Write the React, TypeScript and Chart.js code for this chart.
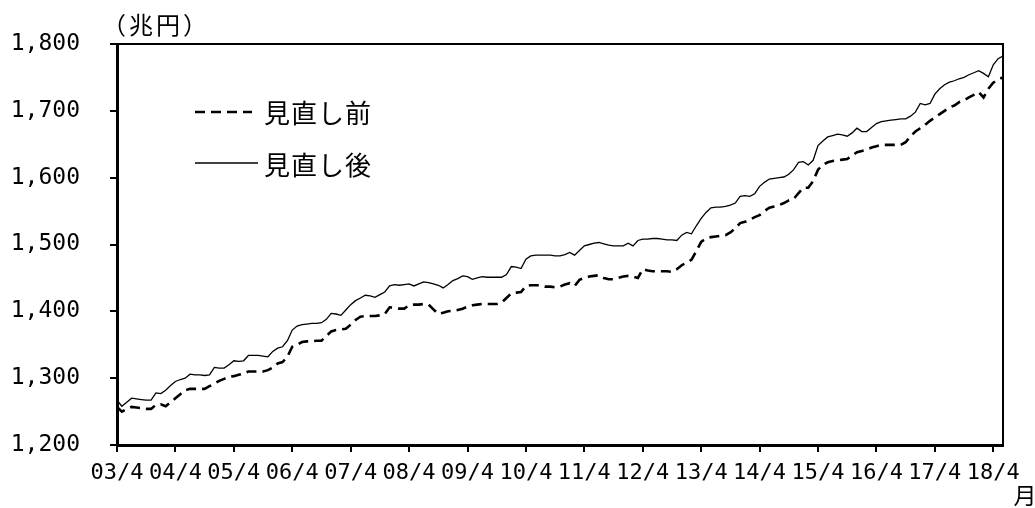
import { useEffect, useRef } from "react";
import { Chart, registerables } from "chart.js";

Chart.register(...registerables);

// ---- data -------------------------------------------------------------
const START_YEAR = 2003;
const START_MONTH = 4;
const MONTH_COUNT = 183; // 2003/4 .. 2018/6

const monthLabels: string[] = Array.from({ length: MONTH_COUNT }, (_, i) => {
  const m0 = START_MONTH - 1 + i;
  const y = START_YEAR + Math.floor(m0 / 12);
  const m = (m0 % 12) + 1;
  return `${String(y % 100).padStart(2, "0")}/${m}`;
});

const xTickLabels = [
  "03/4", "04/4", "05/4", "06/4", "07/4", "08/4", "09/4", "10/4",
  "11/4", "12/4", "13/4", "14/4", "15/4", "16/4", "17/4", "18/4",
];

const yTickValues = [1200, 1300, 1400, 1500, 1600, 1700, 1800];

const seriesNames = ["見直し前", "見直し後"];

const unitLabel = "（兆円）";
const xUnitLabel = "月";

// 見直し前 (before revision), monthly
const beforeRevision = [
  1257, 1250, 1254, 1257, 1256, 1255, 1254, 1254, 1260, 1261, 1258, 1264,
  1270, 1276, 1282, 1284, 1284, 1284, 1284, 1288, 1292, 1296, 1299, 1302,
  1303, 1305, 1307, 1310, 1310, 1310, 1310, 1312, 1316, 1322, 1324, 1332,
  1347, 1350, 1354, 1355, 1355, 1356, 1356, 1363, 1370, 1372, 1373, 1374,
  1380, 1387, 1392, 1393, 1393, 1393, 1394, 1396, 1406, 1405, 1404, 1404,
  1409, 1410, 1410, 1411, 1410, 1403, 1396, 1398, 1400, 1401, 1402, 1404,
  1407, 1409, 1410, 1411, 1411, 1411, 1411, 1413, 1420, 1427, 1428, 1429,
  1438, 1439, 1439, 1439, 1437, 1437, 1436, 1437, 1440, 1442, 1438, 1447,
  1450, 1452, 1453, 1454, 1450, 1448, 1448, 1450, 1452, 1453, 1452, 1450,
  1463, 1461, 1460, 1460, 1460, 1460, 1459, 1463, 1469, 1473, 1477, 1490,
  1504, 1509, 1511, 1512, 1513, 1514, 1518, 1524, 1532, 1534, 1537, 1541,
  1544, 1550, 1555, 1557, 1559, 1562, 1566, 1568, 1577, 1585, 1585, 1595,
  1612, 1619, 1623, 1625, 1626, 1627, 1628, 1633, 1638, 1640, 1642, 1645,
  1647, 1649, 1649, 1649, 1649, 1649, 1653, 1662, 1669, 1674, 1679, 1685,
  1690, 1695, 1700, 1705, 1708, 1713, 1716, 1720, 1724, 1728, 1720, 1733,
  1742, 1747, 1750,
];

// 見直し後 (after revision), monthly
const afterRevision = [
  1267, 1258, 1264, 1270, 1269, 1268, 1267, 1267, 1278, 1277, 1282, 1289,
  1295, 1298, 1300, 1306, 1305, 1305, 1304, 1305, 1316, 1315, 1315, 1320,
  1326, 1325, 1326, 1334, 1334, 1334, 1333, 1332, 1340, 1345, 1347, 1356,
  1372, 1378, 1380, 1381, 1382, 1382, 1383, 1388, 1397, 1396, 1394, 1402,
  1410, 1416, 1420, 1424, 1423, 1421, 1425, 1429, 1438, 1440, 1439, 1440,
  1441, 1438, 1441, 1444, 1443, 1441, 1439, 1435, 1440, 1446, 1449, 1453,
  1452, 1448, 1450, 1452, 1451, 1451, 1451, 1451, 1455, 1467, 1466, 1464,
  1478, 1483, 1484, 1484, 1484, 1484, 1483, 1483, 1485, 1488, 1484, 1491,
  1498, 1500, 1502, 1503, 1501, 1499, 1498, 1498, 1498, 1502, 1498, 1506,
  1508, 1508, 1509, 1509, 1508, 1507, 1507, 1506, 1514, 1518, 1516, 1528,
  1539, 1548, 1555, 1556, 1556, 1557, 1559, 1562, 1572, 1573, 1572, 1576,
  1587, 1593, 1598, 1599, 1600, 1601, 1605, 1612, 1623, 1624, 1619, 1626,
  1648, 1655, 1661, 1663, 1665, 1664, 1662, 1667, 1674, 1669, 1669, 1675,
  1681, 1684, 1685, 1686, 1687, 1688, 1688, 1692, 1698, 1711, 1709, 1711,
  1725, 1733, 1739, 1743, 1745, 1748, 1750, 1754, 1757, 1760, 1756, 1751,
  1769, 1778, 1782,
];

// ---- styling ----------------------------------------------------------
const TICK_FONT = '"DejaVu Sans Mono", "Noto Sans CJK JP", monospace';
const JP_FONT = '"Noto Sans CJK JP", sans-serif';
const DASH = [10, 6];

const formatThousands = (v: number) => {
  const s = String(Math.round(v));
  return s.replace(/\B(?=(\d{3})+(?!\d))/g, ",");
};

const decorPlugin = {
  id: "decor",
  afterDraw(chart: any) {
    const { ctx, chartArea: a } = chart;
    ctx.save();
    // top & right frame
    ctx.strokeStyle = "#000";
    ctx.lineWidth = 2;
    ctx.beginPath();
    ctx.moveTo(a.left - 7, a.top);
    ctx.lineTo(a.right, a.top);
    ctx.lineTo(a.right, a.bottom);
    ctx.stroke();

    // legend (inside plot)
    const ds = chart.data.datasets;
    const items = [
      { y: 112, x1: 195, x2: 252, dash: DASH, w: 2.5, label: ds[0].label, ty: 113 },
      { y: 163, x1: 195, x2: 258, dash: [], w: 1.3, label: ds[1].label, ty: 165 },
    ];
    ctx.font = `26px ${JP_FONT}`;
    ctx.fillStyle = "#000";
    ctx.textAlign = "left";
    ctx.textBaseline = "middle";
    for (const it of items) {
      ctx.setLineDash(it.dash);
      ctx.lineWidth = it.w;
      ctx.beginPath();
      ctx.moveTo(it.x1, it.y);
      ctx.lineTo(it.x2, it.y);
      ctx.stroke();
      ctx.setLineDash([]);
      ctx.letterSpacing = "1px";
      ctx.fillText(it.label, 264, it.ty);
      ctx.letterSpacing = "0px";
    }

    // unit labels
    ctx.font = `24px ${JP_FONT}`;
    ctx.textBaseline = "middle";
    ctx.textAlign = "left";
    ctx.letterSpacing = "3px";
    ctx.fillText(unitLabel, 102, 25);
    ctx.letterSpacing = "0px";
    ctx.textAlign = "center";
    ctx.font = `23px ${JP_FONT}`;
    ctx.fillText(xUnitLabel, 1025, 495);
    ctx.restore();
  },
};

export default function App() {
  const canvasRef = useRef<HTMLCanvasElement | null>(null);

  useEffect(() => {
    if (!canvasRef.current) return;
    const chart = new Chart(canvasRef.current, {
      type: "line",
      data: {
        labels: monthLabels,
        datasets: [
          {
            label: seriesNames[0],
            data: beforeRevision,
            borderColor: "#000",
            borderWidth: 2.6,
            borderDash: DASH,
            pointRadius: 0,
            tension: 0,
            fill: false,
          },
          {
            label: seriesNames[1],
            data: afterRevision,
            borderColor: "#000",
            borderWidth: 1.3,
            pointRadius: 0,
            tension: 0,
            fill: false,
          },
        ],
      },
      options: {
        animation: false,
        responsive: false,
        devicePixelRatio: 1,
        layout: { padding: { left: 0, top: 44, right: 32, bottom: 0 } },
        plugins: {
          legend: { display: false },
          tooltip: { enabled: false },
          title: { display: false },
        },
        scales: {
          x: {
            type: "category",
            offset: false,
            afterFit(scale: any) {
              scale.height = 63;
            },
            border: { display: true, color: "#000", width: 3 },
            grid: {
              drawOnChartArea: false,
              drawTicks: true,
              tickLength: 7,
              color: "#000",
              lineWidth: 2,
            },
            ticks: {
              autoSkip: false,
              maxRotation: 0,
              minRotation: 0,
              padding: 8,
              color: "#000",
              font: { family: TICK_FONT, size: 22 },
              callback: (_v: any, index: number) =>
                index % 12 === 0 ? xTickLabels[index / 12] : null,
            },
          },
          y: {
            type: "linear",
            min: yTickValues[0],
            max: yTickValues[yTickValues.length - 1],
            afterFit(scale: any) {
              scale.width = 117;
            },
            afterBuildTicks(scale: any) {
              scale.ticks = yTickValues.map((v) => ({ value: v }));
            },
            border: { display: true, color: "#000", width: 3 },
            grid: {
              drawOnChartArea: false,
              drawTicks: true,
              tickLength: 7,
              color: "#000",
              lineWidth: 2,
            },
            ticks: {
              padding: 30,
              color: "#000",
              font: { family: TICK_FONT, size: 23 },
              callback: (v: any) => formatThousands(Number(v)),
            },
          },
        },
      },
      plugins: [decorPlugin],
    });
    return () => chart.destroy();
  }, []);

  return (
    <div style={{ position: "absolute", left: 0, top: 0, width: 1035, height: 508, background: "#fff" }}>
      <canvas ref={canvasRef} width={1035} height={508} />
    </div>
  );
}
